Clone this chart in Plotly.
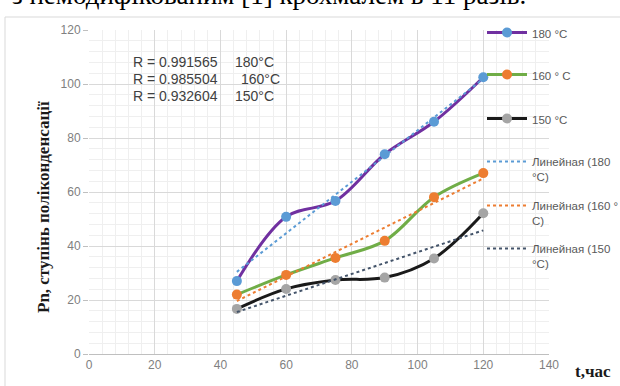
import numpy as np
import plotly.graph_objects as go

# ---- data ----
t_hours = [45, 60, 75, 90, 105, 120]
pn_180 = [27.0, 50.8, 56.7, 74.0, 86.0, 102.5]
pn_160 = [22.0, 29.3, 35.6, 41.9, 58.1, 67.0]
pn_150 = [16.7, 24.1, 27.4, 28.3, 35.4, 52.1]

series_names = ["180 °C", "160 ° C", "150 °C"]
trend_names = ["Линейная (180<br>°C)", "Линейная (160 °<br>C)", "Линейная (150<br>°C)"]
r_values = ["R = 0.991565", "R = 0.985504", "R = 0.932604"]
r_temps = ["180°C", "160°C", "150°C"]

x_ticks = [0, 20, 40, 60, 80, 100, 120, 140]
y_ticks = [0, 20, 40, 60, 80, 100, 120]

line_colors = ["#7030A0", "#70AD47", "#1A1A1A"]
marker_colors = ["#5B9BD5", "#ED7D31", "#A5A5A5"]
trend_colors = ["#5B9BD5", "#ED7D31", "#44546A"]

# pixel helpers -> paper coords (plot area 89..549 x, 30..354 y)
L, R_, T, B = 89, 549, 30, 354
W, H = 620, 386
def px(x):
    return (x - L) / (R_ - L)
def py(y):
    return (B - y) / (B - T)

fig = go.Figure()
all_series = [pn_180, pn_160, pn_150]
legend_ids = ["legend", "legend2", "legend3"]
for i, ys in enumerate(all_series):
    fig.add_trace(go.Scatter(
        x=t_hours, y=ys, mode="lines+markers", name=series_names[i],
        line=dict(color=line_colors[i], width=3, shape="spline"),
        marker=dict(color=marker_colors[i], size=10),
        legend=legend_ids[i],
    ))

trend_legends = ["legend4", "legend5", "legend6"]
for i, ys in enumerate(all_series):
    k, b = np.polyfit(t_hours, ys, 1)
    xs = [t_hours[0], t_hours[-1]]
    fig.add_trace(go.Scatter(
        x=xs, y=[k * xv + b for xv in xs], mode="lines", name=trend_names[i],
        line=dict(color=trend_colors[i], width=2, dash="dot"),
        legend=trend_legends[i],
    ))

leg_font = dict(family="Liberation Sans", size=11.5, color="#595959")
legend_common = dict(bgcolor="rgba(0,0,0,0)", font=leg_font, xanchor="left",
                     yanchor="middle", itemwidth=40, valign="top")
leg_x = px(482)
layout_legends = {
    "legend": dict(x=leg_x, y=py(33), **legend_common),
    "legend2": dict(x=leg_x, y=py(75), **legend_common),
    "legend3": dict(x=leg_x, y=py(119), **legend_common),
    "legend4": dict(x=leg_x, y=py(169), **legend_common),
    "legend5": dict(x=leg_x, y=py(213), **legend_common),
    "legend6": dict(x=leg_x, y=py(256), **legend_common),
}

tick_font = dict(family="Liberation Sans", size=12, color="#808080")
fig.update_layout(
    width=W, height=H,
    margin=dict(l=L, r=W - R_, t=T, b=H - B, pad=0, autoexpand=False),
    paper_bgcolor="white", plot_bgcolor="white",
    showlegend=True,
    xaxis=dict(range=[0, 140], tickvals=x_ticks, ticktext=[str(v) for v in x_ticks],
               showgrid=True, gridcolor="#D9D9D9", gridwidth=1,
               minor=dict(dtick=4, showgrid=True, gridcolor="#EFEFEF", gridwidth=1),
               zeroline=False, showline=True, linecolor="#BFBFBF", linewidth=1,
               ticks="", tickfont=tick_font, fixedrange=True, automargin=False),
    yaxis=dict(range=[0, 120], tickvals=y_ticks, ticktext=[str(v) for v in y_ticks],
               showgrid=True, gridcolor="#D9D9D9", gridwidth=1,
               minor=dict(dtick=4, showgrid=True, gridcolor="#EFEFEF", gridwidth=1),
               zeroline=False, showline=False,
               ticks="outside", ticklen=5, tickcolor="#BFBFBF",
               tickfont=tick_font, fixedrange=True, automargin=False),
    **layout_legends,
)

ann_font = dict(family="Liberation Sans", size=14, color="#404040")
r_rows_px = [62, 79, 96]
temp_x_px = [233, 239, 233]
for i in range(3):
    fig.add_annotation(x=px(131), y=py(r_rows_px[i]), xref="paper", yref="paper",
                       text=r_values[i], showarrow=False, xanchor="left", yanchor="middle",
                       font=ann_font)
    fig.add_annotation(x=px(temp_x_px[i]), y=py(r_rows_px[i]), xref="paper", yref="paper",
                       text=r_temps[i], showarrow=False, xanchor="left", yanchor="middle",
                       font=ann_font)

# axis titles
fig.add_annotation(x=px(43), y=py(207), xref="paper", yref="paper",
                   text="<b>Pn, ступінь поліконденсації</b>", textangle=-90,
                   showarrow=False, xanchor="center", yanchor="middle",
                   font=dict(family="Liberation Serif", size=17, color="#1A1A1A"))
fig.add_annotation(x=px(593), y=py(371), xref="paper", yref="paper",
                   text="<b>t,час</b>", showarrow=False, xanchor="center", yanchor="middle",
                   font=dict(family="Liberation Serif", size=17, color="#1A1A1A"))

# surrounding document text (cut off at top)
fig.add_annotation(x=px(10), y=py(12), xref="paper", yref="paper",
                   text="з немодифікованим [1] крохмалем в 11 разів.", showarrow=False,
                   xanchor="left", yanchor="bottom",
                   font=dict(family="Liberation Serif", size=27, color="#000000"))

# chart frame
fig.add_shape(type="line", xref="paper", yref="paper", x0=px(5), x1=px(625),
              y0=py(17), y1=py(17), line=dict(color="#D9D9D9", width=1))
fig.add_shape(type="line", xref="paper", yref="paper", x0=px(5), x1=px(5),
              y0=py(17), y1=py(395), line=dict(color="#D9D9D9", width=1))

fig.write_html("out.html")
